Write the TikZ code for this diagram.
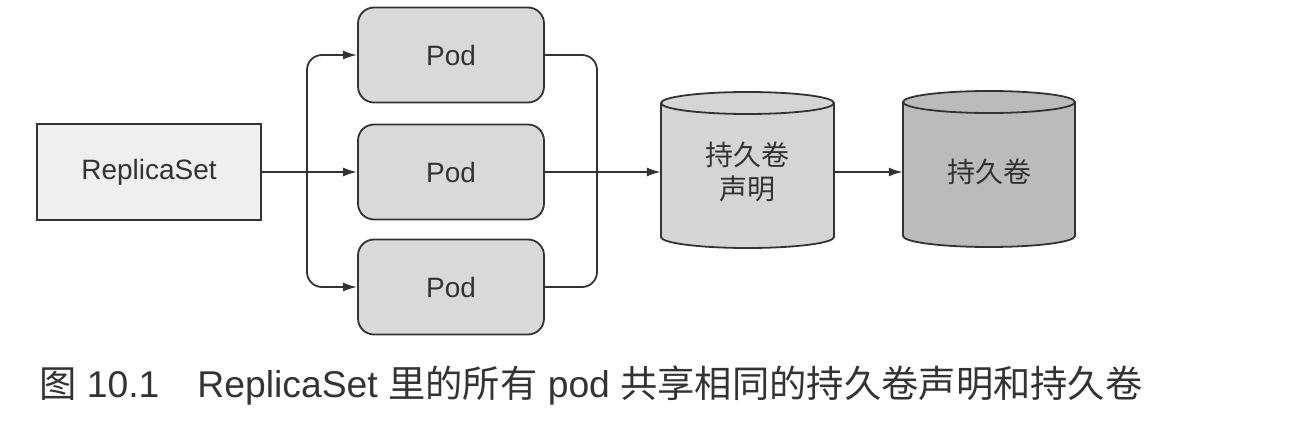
\documentclass[tikz,border=0pt]{standalone}
\usepackage{fontspec}
\setmainfont{Liberation Sans}
\newfontfamily\cjk{Noto Sans CJK SC}
\usetikzlibrary{arrows.meta}
\definecolor{ink}{HTML}{333333}
\definecolor{rsfill}{HTML}{EFEFEF}
\definecolor{podfill}{HTML}{D9D9D9}
\definecolor{pvcfill}{HTML}{D5D5D5}
\definecolor{pvfill}{HTML}{BBBBBB}
\tikzset{
  rsbox/.style={draw=ink, line width=1.8pt, fill=rsfill, minimum width=224pt, minimum height=96pt, inner sep=0pt, font=\fontsize{28}{30}\selectfont, text=ink},
  podbox/.style={draw=ink, line width=1.8pt, fill=podfill, rounded corners=16pt, minimum width=186pt, minimum height=95pt, inner sep=0pt, font=\fontsize{28}{30}\selectfont, text=ink},
  cyltext/.style={minimum width=173pt, minimum height=140pt, inner sep=0pt, align=center, font=\cjk\fontsize{28}{34}\selectfont, text=ink},
  conn/.style={draw=ink, line width=1.8pt},
  arr/.style={conn, -{Latex[length=14pt,width=9pt]}},
}
\begin{document}
\begin{tikzpicture}[x=1pt,y=-1pt]
\useasboundingbox (0,0) rectangle (1296,428);
% nodes
\node[rsbox] (rs) at (149,172) {ReplicaSet};
\node[podbox] (pod1) at (451,55) {Pod};
\node[podbox] (pod2) at (451,172) {Pod};
\node[podbox] (pod3) at (451,287) {Pod};
% cylinder 1
\fill[pvcfill] (661,103) -- (661,237) arc[start angle=180,end angle=0,x radius=86.5,y radius=11] -- (834,103) -- cycle;
\draw[ink, line width=1.8pt] (661,103) -- (661,237) arc[start angle=180,end angle=0,x radius=86.5,y radius=11] -- (834,103);
\draw[ink, line width=1.8pt, fill=pvcfill] (747.5,103) ellipse[x radius=86.5,y radius=11];
\node[cyltext] (pvc) at (747.5,172) {持久卷\\声明};
% cylinder 2
\fill[pvfill] (903,102) -- (903,236) arc[start angle=180,end angle=0,x radius=86,y radius=11] -- (1075,102) -- cycle;
\draw[ink, line width=1.8pt] (903,102) -- (903,236) arc[start angle=180,end angle=0,x radius=86,y radius=11] -- (1075,102);
\draw[ink, line width=1.8pt, fill=pvfill] (989,102) ellipse[x radius=86,y radius=11];
\node[cyltext, minimum width=172pt] (pv) at (989,172) {持久卷};
% connectors
\coordinate (fx) at (307,172);
\coordinate (mx) at (597,172);
\draw[arr] (rs.east) -- (pod2.west);
\draw[arr, rounded corners=15pt] (fx) |- (pod1.west);
\draw[arr, rounded corners=15pt] (fx) |- (pod3.west);
\draw[conn, rounded corners=15pt] (pod1.east) -| (mx);
\draw[conn, rounded corners=15pt] (pod3.east) -| (mx);
\draw[arr] (pod2.east) -- (pvc.west);
\draw[arr] (pvc.east) -- (pv.west);
% caption
\node[anchor=west, inner sep=0pt, text=ink, font=\fontsize{37.3}{40}\selectfont] (cap) at (39,386) {{\cjk 图} 10.1\hspace{38pt}ReplicaSet {\cjk 里的所有} pod {\cjk 共享相同的持久卷声明和持久卷}};
\end{tikzpicture}
\end{document}
